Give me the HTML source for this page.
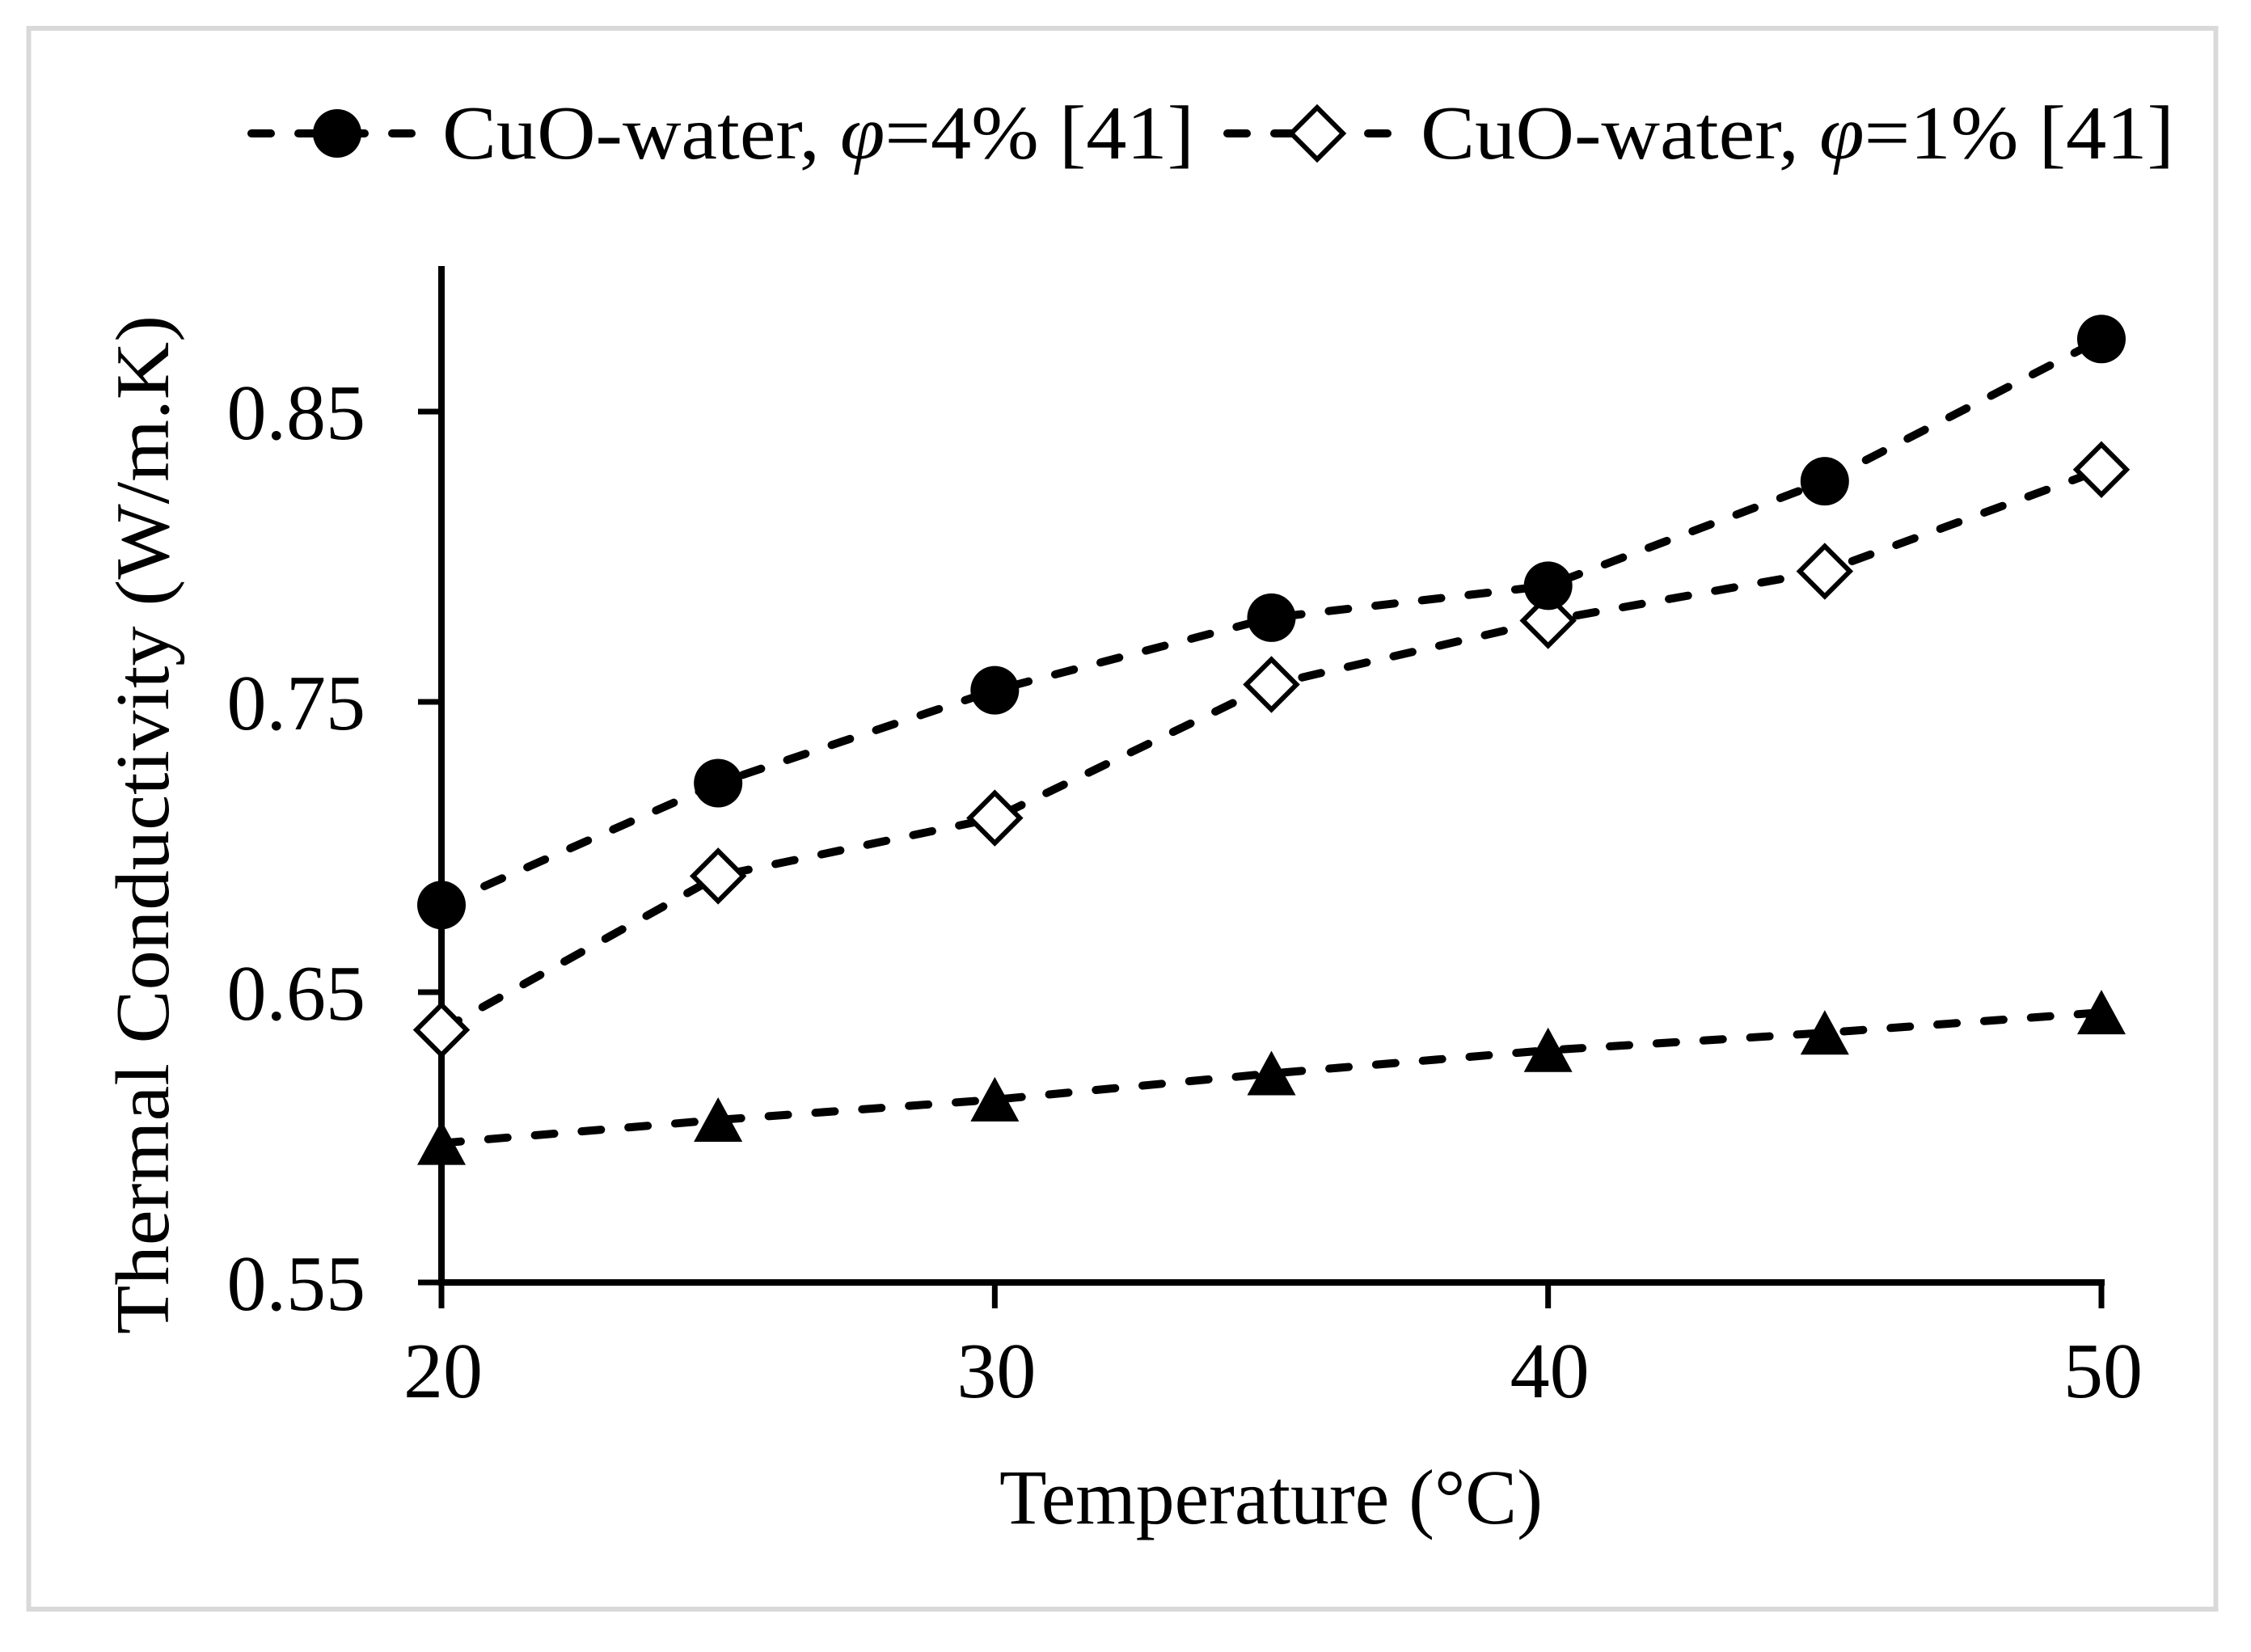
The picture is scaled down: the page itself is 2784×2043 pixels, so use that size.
<!DOCTYPE html>
<html><head><meta charset="utf-8"><style>
html,body{margin:0;padding:0;background:#fff;}
svg{display:block;font-family:"Liberation Serif",serif;}
</style></head><body>
<svg id="chart" width="2784" height="2043" viewBox="0 0 2784 2043">
<rect x="35.5" y="35" width="2705" height="1955" fill="#fff" stroke="#d9d9d9" stroke-width="6"/>
<g id="axes"></g>
<g id="series"></g>
<g id="legend">
  <line x1="311" y1="165" x2="515" y2="165" stroke="#000" stroke-width="10" stroke-dasharray="24 34" stroke-linecap="round"/>
  <circle cx="417" cy="165" r="30" fill="#000"/>
  <text x="547" y="196" font-size="94" textLength="930" lengthAdjust="spacingAndGlyphs">CuO-water, <tspan font-style="italic">φ</tspan>=4% [41]</text>
  <line x1="1518" y1="165" x2="1731" y2="165" stroke="#000" stroke-width="10" stroke-dasharray="24 34" stroke-linecap="round"/>
  <path d="M1629 133 L1661 165 L1629 197 L1597 165 Z" fill="#fff" stroke="#000" stroke-width="6"/>
  <text x="1757" y="196" font-size="94" textLength="932" lengthAdjust="spacingAndGlyphs">CuO-water, <tspan font-style="italic">φ</tspan>=1% [41]</text>
</g>
<text x="0" y="0" transform="translate(208,1020) rotate(-90)" text-anchor="middle" font-size="94" textLength="1260" lengthAdjust="spacingAndGlyphs">Thermal Conductivity (W/m.K)</text>
<text x="1572" y="1884" text-anchor="middle" font-size="96" textLength="672" lengthAdjust="spacingAndGlyphs">Temperature (°C)</text>
</svg>
<script>
const temps = [20, 25, 30, 35, 40, 45, 50];
const cuo4 = [0.680, 0.722, 0.754, 0.779, 0.790, 0.826, 0.875];
const cuo1 = [0.637, 0.690, 0.710, 0.756, 0.778, 0.795, 0.830];
const water = [0.598, 0.606, 0.613, 0.622, 0.630, 0.636, 0.643];
const xTicks = [20, 30, 40, 50];
const yTicks = [0.55, 0.65, 0.75, 0.85];
const xTickLabels = ["20", "30", "40", "50"];
const yTickLabels = ["0.55", "0.65", "0.75", "0.85"];

const NS = "http://www.w3.org/2000/svg";
function X(v){ return 546 + (v - 20) * (2599 - 546) / 30; }
function Y(v){ return 1586 - (v - 0.55) * (1586 - 509) / 0.3; }
function mk(tag, attrs, parent){ const e = document.createElementNS(NS, tag); for (const k in attrs) e.setAttribute(k, attrs[k]); parent.appendChild(e); return e; }

const axes = document.getElementById('axes');
let el = mk('line', {x1:546, y1:329, x2:546, y2:1590, stroke:'#000', 'stroke-width':8}, axes);


el = mk('line', {x1:542, y1:1586, x2:2603, y2:1586, stroke:'#000', 'stroke-width':8}, axes);


yTicks.forEach((t, i) => {
  const y = Y(t);
  let tk = mk('line', {x1:517, y1:y, x2:546, y2:y, stroke:'#000', 'stroke-width':7}, axes);
  
  
  let lb = mk('text', {x:452, y:y + 34, 'text-anchor':'end', 'font-size':98}, axes);
  lb.textContent = yTickLabels[i];
  
  
});
xTicks.forEach((t, i) => {
  const x = X(t);
  let tk = mk('line', {x1:x, y1:1586, x2:x, y2:1618, stroke:'#000', 'stroke-width':7}, axes);
  
  
  let lb = mk('text', {x:x + 2, y:1728, 'text-anchor':'middle', 'font-size':98}, axes);
  lb.textContent = xTickLabels[i];
  
  
});

const ser = document.getElementById('series');
function drawLine(vals, name){
  const pts = temps.map((t, i) => X(t) + ',' + Y(vals[i])).join(' ');
  const p = mk('polyline', {points:pts, fill:'none', stroke:'#000', 'stroke-width':10, 'stroke-dasharray':'24 34', 'stroke-linecap':'round'}, ser);
  
  
}
drawLine(water, 'line-water');
drawLine(cuo1, 'line-cuo-1pct');
drawLine(cuo4, 'line-cuo-4pct');
temps.forEach((t, i) => {
  const x = X(t);
  let y = Y(water[i]);
  let m = mk('path', {d:`M${x} ${y-28} L${x+30} ${y+27} L${x-30} ${y+27} Z`, fill:'#000'}, ser);
  
  
  y = Y(cuo1[i]);
  m = mk('path', {d:`M${x} ${y-31} L${x+31} ${y} L${x} ${y+31} L${x-31} ${y} Z`, fill:'#fff', stroke:'#000', 'stroke-width':6}, ser);
  
  
  y = Y(cuo4[i]);
  m = mk('circle', {cx:x, cy:y, r:30, fill:'#000'}, ser);
  
  
});
</script>
</body></html>
